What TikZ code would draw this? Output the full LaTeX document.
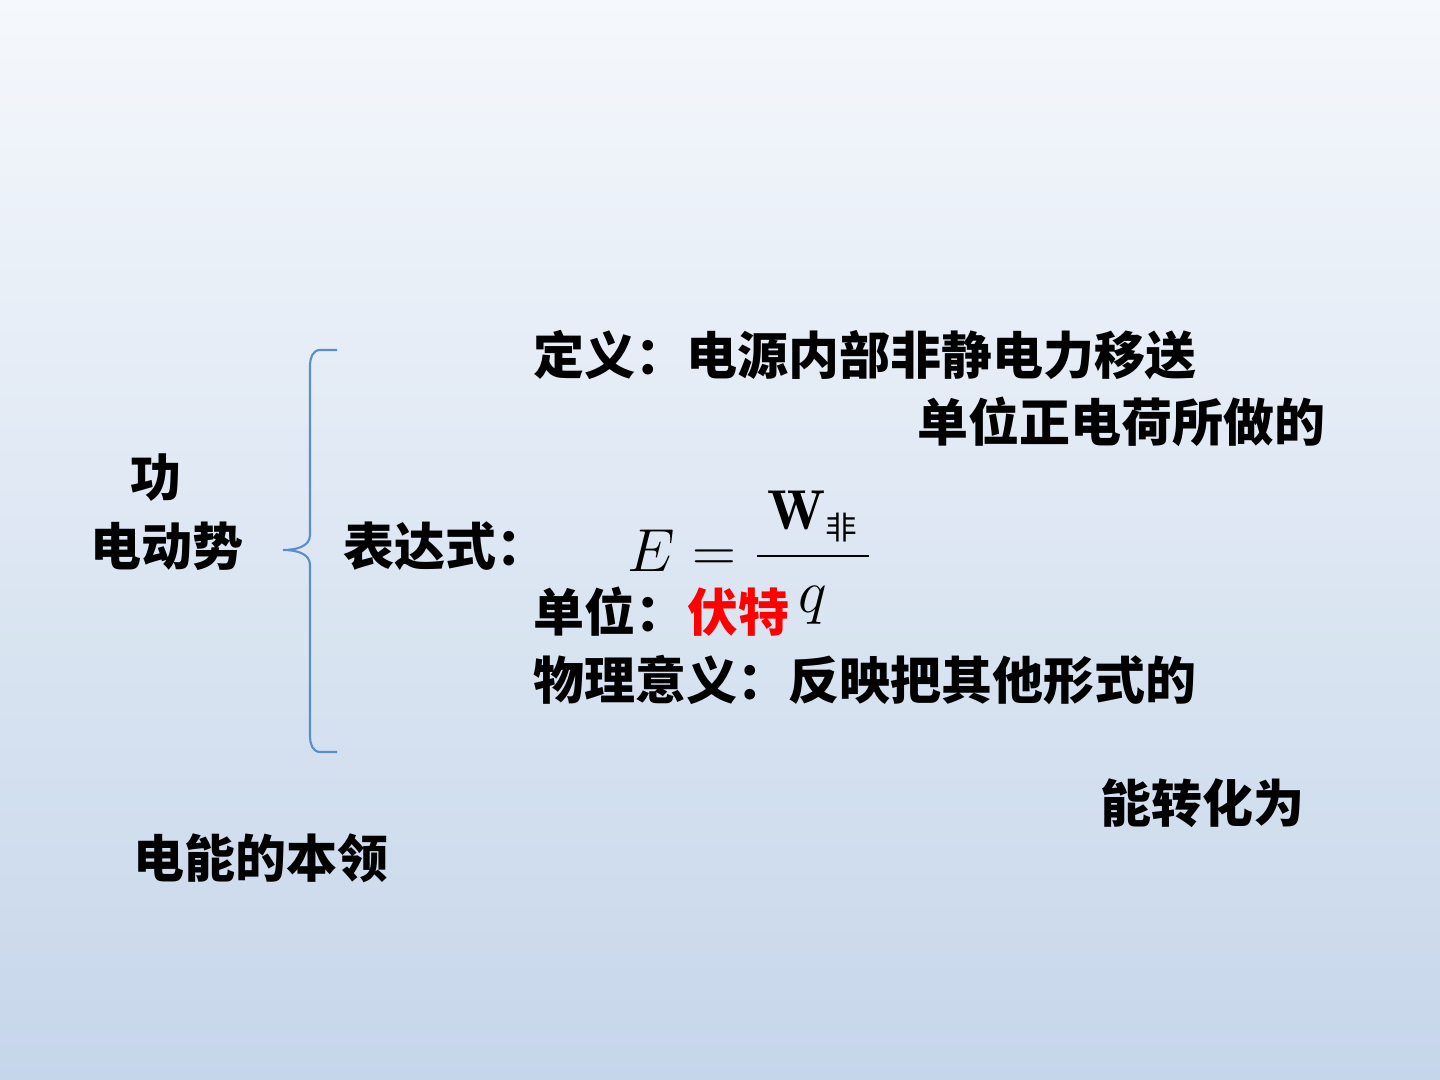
\documentclass[tikz,border=0pt]{standalone}
\usepackage{fontspec}
\newfontfamily\cjk{Noto Sans CJK SC}
\usetikzlibrary{positioning}
\definecolor{bgtop}{HTML}{F5F8FC}
\definecolor{bgbot}{HTML}{C6D6EA}
\definecolor{bracecol}{HTML}{5B8DC8}
\tikzset{
  txt/.style={anchor=west, inner sep=0pt, font=\cjk\bfseries\fontsize{14.5}{17}\selectfont},
}
\begin{document}
\begin{tikzpicture}
\shade[top color=bgtop, bottom color=bgbot] (0,0) rectangle (14.4,10.8);
\useasboundingbox (0,0) rectangle (14.4,10.8);
% brace
\draw[bracecol, line width=0.6pt] (3.37,7.30) -- (3.20,7.30) to[out=180,in=90] (3.10,7.15)
  -- (3.10,5.45) to[out=-90,in=0] (2.83,5.30) to[out=0,in=90] (3.10,5.15)
  -- (3.10,3.43) to[out=-90,in=180] (3.20,3.28) -- (3.37,3.28);
\node[txt] (gong) at (1.30,6.02) {功};
\node[txt] (emf) at (0.90,5.34) {电动势};
\node[txt] (expr) at (3.43,5.34) {表达式：};
\node[txt] (def) at (5.33,7.25) {定义：电源内部非静电力移送};
\node[txt] (def2) at (9.17,6.58) {单位正电荷所做的};
\node[anchor=west, inner sep=0pt, font=\fontsize{16}{19}\selectfont] (formula) at (6.27,5.22)
  {$\displaystyle E=\frac{\,\mathbf{W}_{\hbox{\cjk\fontsize{9}{10}\selectfont 非}}\,}{q}$};
\node[txt] (unit) at (5.33,4.68) {单位：};
\node[txt, text=red, right=0pt of unit] (volt) {伏特};
\node[txt] (mean) at (5.33,4.00) {物理意义：反映把其他形式的};
\node[txt] (mean2) at (11.00,2.77) {能转化为};
\node[txt] (mean3) at (1.33,2.22) {电能的本领};
\end{tikzpicture}
\end{document}
